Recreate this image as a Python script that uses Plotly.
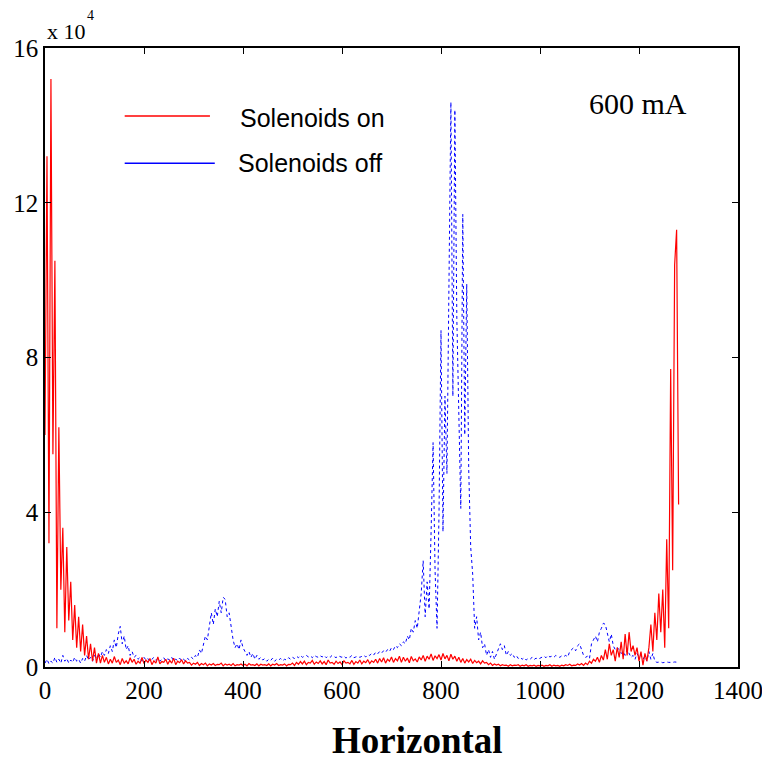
import plotly.graph_objects as go

# sampling grid of the horizontal channel index (step 4)
channel = list(range(0, 1284, 4))

# Signal (units of 1e4) with solenoids on
solenoids_on = [
    6.0, 13.2, 3.2, 15.2, 5.5, 10.5, 1.0, 6.2, 2.0, 3.6,
    0.9, 3.1, 1.2, 2.2, 0.7, 1.6, 0.5, 1.3, 0.4, 1.1,
    0.3, 0.8, 0.2, 0.6, 0.15, 0.5, 0.1, 0.35, 0.1, 0.3,
    0.12, 0.25, 0.08, 0.2, 0.1, 0.27, 0.12, 0.18, 0.06, 0.22,
    0.1, 0.16, 0.08, 0.24, 0.12, 0.2, 0.07, 0.15, 0.1, 0.25,
    0.09, 0.18, 0.12, 0.22, 0.06, 0.16, 0.1, 0.26, 0.08, 0.14,
    0.12, 0.2, 0.07, 0.17, 0.1, 0.23, 0.06, 0.15, 0.11, 0.19,
    0.08, 0.16, 0.1, 0.12, 0.05, 0.1, 0.07, 0.12, 0.04, 0.09,
    0.06, 0.1, 0.03, 0.08, 0.05, 0.09, 0.04, 0.07, 0.06, 0.1,
    0.03, 0.08, 0.05, 0.07, 0.04, 0.09, 0.03, 0.06, 0.05, 0.08,
    0.04, 0.07, 0.03, 0.09, 0.05, 0.06, 0.04, 0.08, 0.03, 0.07,
    0.05, 0.06, 0.04, 0.08, 0.03, 0.07, 0.05, 0.09, 0.04, 0.06,
    0.05, 0.08, 0.03, 0.07, 0.06, 0.1, 0.04, 0.12, 0.07, 0.14,
    0.08, 0.15, 0.06, 0.12, 0.1, 0.17, 0.07, 0.13, 0.09, 0.16,
    0.08, 0.14, 0.06, 0.18, 0.1, 0.12, 0.07, 0.15, 0.09, 0.13,
    0.06, 0.16, 0.1, 0.12, 0.08, 0.17, 0.07, 0.14, 0.1, 0.18,
    0.08, 0.15, 0.11, 0.19, 0.09, 0.16, 0.12, 0.2, 0.1, 0.22,
    0.13, 0.24, 0.1, 0.2, 0.15, 0.26, 0.12, 0.22, 0.16, 0.28,
    0.12, 0.25, 0.15, 0.23, 0.11, 0.27, 0.16, 0.21, 0.13, 0.26,
    0.18, 0.3, 0.15, 0.28, 0.2, 0.34, 0.17, 0.29, 0.22, 0.32,
    0.18, 0.35, 0.21, 0.3, 0.16, 0.33, 0.2, 0.28, 0.15, 0.25,
    0.12, 0.22, 0.1, 0.19, 0.13, 0.2, 0.09, 0.17, 0.11, 0.15,
    0.08, 0.16, 0.1, 0.12, 0.06, 0.1, 0.04, 0.08, 0.05, 0.07,
    0.03, 0.06, 0.04, 0.05, 0.02, 0.06, 0.03, 0.05, 0.04, 0.06,
    0.02, 0.05, 0.03, 0.06, 0.02, 0.04, 0.03, 0.05, 0.02, 0.04,
    0.03, 0.05, 0.02, 0.04, 0.03, 0.06, 0.02, 0.05, 0.03, 0.04,
    0.02, 0.05, 0.03, 0.06, 0.04, 0.07, 0.03, 0.05, 0.04, 0.08,
    0.05, 0.09, 0.04, 0.1, 0.06, 0.15, 0.1, 0.2, 0.15, 0.25,
    0.12, 0.3, 0.18, 0.45, 0.2, 0.6, 0.3, 0.45, 0.15, 0.5,
    0.25, 0.65, 0.2, 0.85, 0.3, 0.9, 0.4, 0.55, 0.3, 0.5,
    0.15, 0.4, 0.05, 0.35, 0.15, 0.5, 1.1, 0.4, 1.4, 0.7,
    1.9, 0.9, 2.0, 0.5, 3.3, 1.0, 7.7, 2.5, 10.4, 11.3,
    4.2,
]

# Signal (units of 1e4) with solenoids off
solenoids_off = [
    0.1, 0.2, 0.08, 0.15, 0.1, 0.25, 0.12, 0.2, 0.1, 0.3,
    0.15, 0.22, 0.1, 0.18, 0.12, 0.25, 0.15, 0.2, 0.1, 0.22,
    0.15, 0.3, 0.18, 0.25, 0.15, 0.3, 0.2, 0.35, 0.25, 0.4,
    0.3, 0.45, 0.35, 0.55, 0.4, 0.7, 0.5, 0.85, 1.05, 0.6,
    0.8, 0.45, 0.55, 0.3, 0.4, 0.25, 0.3, 0.2, 0.25, 0.15,
    0.25, 0.18, 0.22, 0.15, 0.2, 0.25, 0.17, 0.22, 0.15, 0.2,
    0.24, 0.16, 0.21, 0.18, 0.25, 0.15, 0.2, 0.17, 0.23, 0.16,
    0.2, 0.15, 0.22, 0.18, 0.25, 0.2, 0.3, 0.25, 0.44, 0.35,
    0.6, 0.8, 0.7, 1.0, 1.4, 1.1, 1.5, 1.3, 1.7, 1.4,
    1.8, 1.75, 1.3, 1.4, 1.0, 0.7, 0.5, 0.6, 0.45, 0.7,
    0.5, 0.4, 0.3, 0.4, 0.25, 0.35, 0.2, 0.3, 0.2, 0.25,
    0.18, 0.22, 0.15, 0.2, 0.17, 0.23, 0.15, 0.2, 0.18, 0.22,
    0.16, 0.2, 0.18, 0.24, 0.2, 0.25, 0.22, 0.28, 0.24, 0.3,
    0.25, 0.28, 0.3, 0.26, 0.29, 0.24, 0.3, 0.27, 0.25, 0.29,
    0.26, 0.3, 0.24, 0.28, 0.25, 0.3, 0.27, 0.24, 0.29, 0.26,
    0.25, 0.28, 0.23, 0.27, 0.25, 0.3, 0.24, 0.26, 0.28, 0.25,
    0.27, 0.3, 0.26, 0.32, 0.3, 0.35, 0.31, 0.38, 0.34, 0.4,
    0.36, 0.42, 0.38, 0.45, 0.4, 0.5, 0.45, 0.55, 0.5, 0.6,
    0.55, 0.65, 0.6, 0.8, 0.7, 1.0, 0.9, 1.2, 1.0, 1.4,
    1.9, 2.75, 1.3, 2.2, 1.5, 3.5, 5.8, 2.5, 1.0, 4.0,
    8.7, 3.5, 7.0, 5.0, 9.5, 14.6, 7.0, 14.4, 9.0, 6.0,
    4.1, 11.7, 6.0, 9.9, 5.1, 3.1, 2.4, 1.0, 1.3, 0.7,
    0.9, 0.5, 0.6, 0.3, 0.45, 0.25, 0.4, 0.2, 0.35, 0.5,
    0.6, 0.45, 0.55, 0.3, 0.4, 0.3, 0.35, 0.25, 0.3, 0.22,
    0.25, 0.2, 0.24, 0.18, 0.22, 0.2, 0.25, 0.19, 0.23, 0.2,
    0.22, 0.25, 0.28, 0.24, 0.3, 0.26, 0.28, 0.25, 0.3, 0.27,
    0.25, 0.29, 0.27, 0.3, 0.26, 0.4, 0.45, 0.5, 0.42, 0.55,
    0.6, 0.45, 0.3, 0.25, 0.28, 0.22, 0.6, 0.7, 0.8, 0.65,
    0.9, 1.0, 1.13, 1.1, 0.9, 0.65, 0.85, 0.55, 0.45, 0.5,
    0.45, 0.35, 0.4, 0.3, 0.45, 0.35, 0.25, 0.3, 0.2, 0.35,
    0.25, 0.3, 0.2, 0.28, 0.15, 0.4, 0.2, 0.35, 0.15, 0.12,
    0.12, 0.13, 0.11, 0.12, 0.13, 0.12, 0.11, 0.12, 0.13, 0.12,
    0.12,
]

x_ticks = [0, 200, 400, 600, 800, 1000, 1200, 1400]
y_ticks = [0, 4, 8, 12, 16]
series_names = ["Solenoids on", "Solenoids off"]

SERIF = "Liberation Serif, Times New Roman, serif"
SANS = "Liberation Sans, Arial, sans-serif"

fig = go.Figure()
fig.add_trace(go.Scatter(x=channel, y=solenoids_off, mode="lines", name=series_names[1],
                         line=dict(color="#0000ff", width=1, dash="dot"), showlegend=False))
fig.add_trace(go.Scatter(x=channel, y=solenoids_on, mode="lines", name=series_names[0],
                         line=dict(color="#ff0000", width=1.2), showlegend=False))

axis_common = dict(showline=True, linecolor="black", linewidth=1.5, mirror="ticks",
                   ticks="inside", ticklen=6, tickcolor="black", tickwidth=1,
                   showgrid=False, zeroline=False, automargin=False,
                   ticklabeloverflow="allow",
                   tickfont=dict(family=SERIF, size=25, color="black"))
fig.update_xaxes(range=[0, 1400], tickvals=x_ticks, **axis_common)
fig.update_yaxes(range=[0, 16], tickvals=y_ticks, **axis_common)

# manual legend
fig.add_shape(type="line", xref="paper", yref="paper", x0=0.115, x1=0.238, y0=0.890, y1=0.890,
              line=dict(color="#ff0000", width=1.5))
fig.add_shape(type="line", xref="paper", yref="paper", x0=0.115, x1=0.245, y0=0.814, y1=0.814,
              line=dict(color="#0000ff", width=1.5))
fig.add_annotation(xref="paper", yref="paper", x=0.2785, y=0.887, xanchor="left", yanchor="middle",
                   text=series_names[0], showarrow=False, font=dict(family=SANS, size=25, color="black"))
fig.add_annotation(xref="paper", yref="paper", x=0.2756, y=0.814, xanchor="left", yanchor="middle",
                   text=series_names[1], showarrow=False, font=dict(family=SANS, size=25, color="black"))

fig.add_annotation(xref="paper", yref="paper", x=0.782, y=0.911, xanchor="left", yanchor="middle",
                   text="600 mA", showarrow=False, font=dict(family=SERIF, size=30, color="black"))

# exponent label
fig.add_annotation(xref="paper", yref="paper", x=0.0, y=1.026, xanchor="left", yanchor="middle",
                   text="x 10", showarrow=False, font=dict(family=SERIF, size=22, color="black"))
fig.add_annotation(xref="paper", yref="paper", x=0.058, y=1.053, xanchor="left", yanchor="middle",
                   text="4", showarrow=False, font=dict(family=SERIF, size=14, color="black"))

fig.add_annotation(xref="paper", yref="paper", x=0.537, y=-0.118, xanchor="center", yanchor="middle",
                   text="<b>Horizontal</b>", showarrow=False, font=dict(family=SERIF, size=37, color="black"))

fig.update_layout(width=762, height=763, margin=dict(l=45, r=24, t=48, b=96),
                  paper_bgcolor="white", plot_bgcolor="white")

# remove the default page margin so the figure fills the window exactly
fig.write_html("out.html", config={"displayModeBar": False},
               post_script="document.body.style.margin='0';document.body.style.overflow='hidden';")
